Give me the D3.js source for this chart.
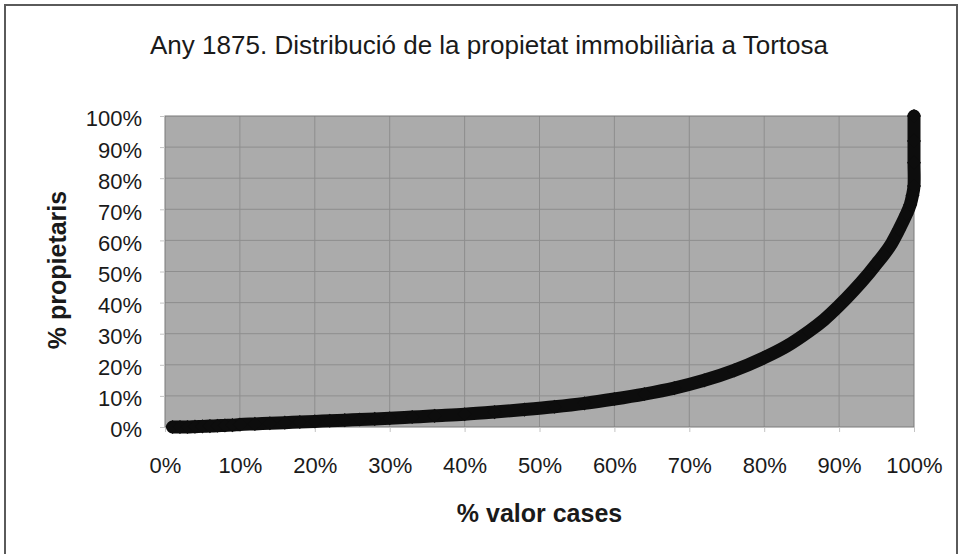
<!DOCTYPE html>
<html>
<head>
<meta charset="utf-8">
<script src="https://cdn.jsdelivr.net/npm/d3@7"></script>
<style>
  body { margin: 0; background: #fff; }
  text { font-family: "Liberation Sans", Arial, sans-serif; fill: #1a1a1a; }
</style>
</head>
<body>
<div id="chart"></div>
<script>
// cumulative % of property value (x) vs cumulative % of owners (y)
const valorPct = [1, 2, 3, 4, 5, 6, 7, 8, 9, 10, 12, 14, 16, 18, 20, 22, 24, 26, 28, 30,
  33, 36, 40, 44, 48, 52, 56, 60, 64, 68, 72, 76, 80, 83, 86, 88, 90, 92, 94, 95,
  96, 97, 98, 99, 99.5, 99.8, 100, 100, 100, 100];
const propietarisPct = [0, 0, 0, 0.1, 0.2, 0.3, 0.4, 0.5, 0.6, 0.8, 1.0, 1.2, 1.4, 1.6, 1.8, 2.0, 2.2, 2.4, 2.6, 2.8,
  3.2, 3.6, 4.1, 4.8, 5.6, 6.5, 7.6, 9.0, 10.6, 12.5, 15, 18.2, 22.3, 26, 30.8, 34.5, 39, 44, 49.5, 52.5,
  55.5, 59, 63.5, 68.5, 71.5, 74.5, 77.5, 85, 92, 100];
const xTicks = [0, 10, 20, 30, 40, 50, 60, 70, 80, 90, 100];
const yTicks = [0, 10, 20, 30, 40, 50, 60, 70, 80, 90, 100];

var width = 962, height = 554;
var margin = {top: 116, right: 48, bottom: 127, left: 165};
var w = width - margin.left - margin.right,
    h = height - margin.top - margin.bottom;

var svg = d3.select("#chart").append("svg")
    .attr("width", width)
    .attr("height", height);

svg.append("rect")
    .attr("width", width).attr("height", height)
    .attr("fill", "#fff");

// chart frame
svg.append("rect")
    .attr("x", 5).attr("y", 5)
    .attr("width", 952).attr("height", 570)
    .attr("fill", "none")
    .attr("stroke", "#5a5a5a")
    .attr("stroke-width", 2);

svg.append("text")
    .attr("x", 489)
    .attr("y", 54)
    .attr("text-anchor", "middle")
    .attr("textLength", 678)
    .attr("lengthAdjust", "spacingAndGlyphs")
    .style("font-size", "25px")
    .text("Any 1875. Distribució de la propietat immobiliària a Tortosa");

var g = svg.append("g")
    .attr("transform", "translate(" + margin.left + "," + margin.top + ")");

var x = d3.scaleLinear().domain([0, 100]).range([0, w]);
var y = d3.scaleLinear().domain([0, 100]).range([h, 0]);

g.append("rect")
    .attr("width", w).attr("height", h)
    .attr("fill", "#ababab");

// gridlines
g.append("g")
    .selectAll("line.vg")
    .data(xTicks.slice(1, -1))
    .enter().append("line")
    .attr("x1", d => x(d)).attr("x2", d => x(d))
    .attr("y1", 0).attr("y2", h)
    .attr("stroke", "#8e8e8e");

g.append("g")
    .selectAll("line.hg")
    .data(yTicks.slice(1, -1))
    .enter().append("line")
    .attr("y1", d => y(d)).attr("y2", d => y(d))
    .attr("x1", 0).attr("x2", w)
    .attr("stroke", "#8e8e8e");

g.append("rect")
    .attr("width", w).attr("height", h)
    .attr("fill", "none")
    .attr("stroke", "#7a7a7a");

var xAxis = g.append("g")
    .attr("transform", "translate(0," + h + ")")
    .call(d3.axisBottom(x).tickValues(xTicks).tickFormat(d => d + "%").tickSize(5).tickPadding(25));
var yAxis = g.append("g")
    .call(d3.axisLeft(y).tickValues(yTicks).tickFormat(d => d + "%").tickSize(5).tickPadding(18));

[xAxis, yAxis].forEach(a => {
  a.select(".domain").remove();
  a.selectAll(".tick line").attr("stroke", "#c4c4c4");
  a.selectAll(".tick text")
      .style("font-size", "22px")
      .attr("fill", "#1a1a1a");
});
yAxis.selectAll(".tick text").attr("dy", "0.45em");

var pts = valorPct.map((v, i) => [v, propietarisPct[i]]);

var line = d3.line()
    .x(d => x(d[0]))
    .y(d => y(d[1]))
    .curve(d3.curveCatmullRom.alpha(0.5));

g.append("path")
    .datum(pts)
    .attr("d", line)
    .attr("fill", "none")
    .attr("stroke", "#0d0d0d")
    .attr("stroke-width", 13)
    .attr("stroke-linecap", "round")
    .attr("stroke-linejoin", "round");

// diamond markers
g.append("g")
    .selectAll("path")
    .data(pts)
    .enter().append("path")
    .attr("d", d3.symbol().type(d3.symbolSquare).size(100))
    .attr("transform", d => "translate(" + x(d[0]) + "," + y(d[1]) + ") rotate(45)")
    .attr("fill", "#0d0d0d");

// axis titles
svg.append("text")
    .attr("x", margin.left + w / 2)
    .attr("y", 522)
    .attr("text-anchor", "middle")
    .style("font-size", "25px")
    .style("font-weight", "bold")
    .text("% valor cases");

svg.append("text")
    .attr("transform", "translate(66,270) rotate(-90)")
    .attr("text-anchor", "middle")
    .style("font-size", "25px")
    .style("font-weight", "bold")
    .text("% propietaris");
</script>
</body>
</html>
